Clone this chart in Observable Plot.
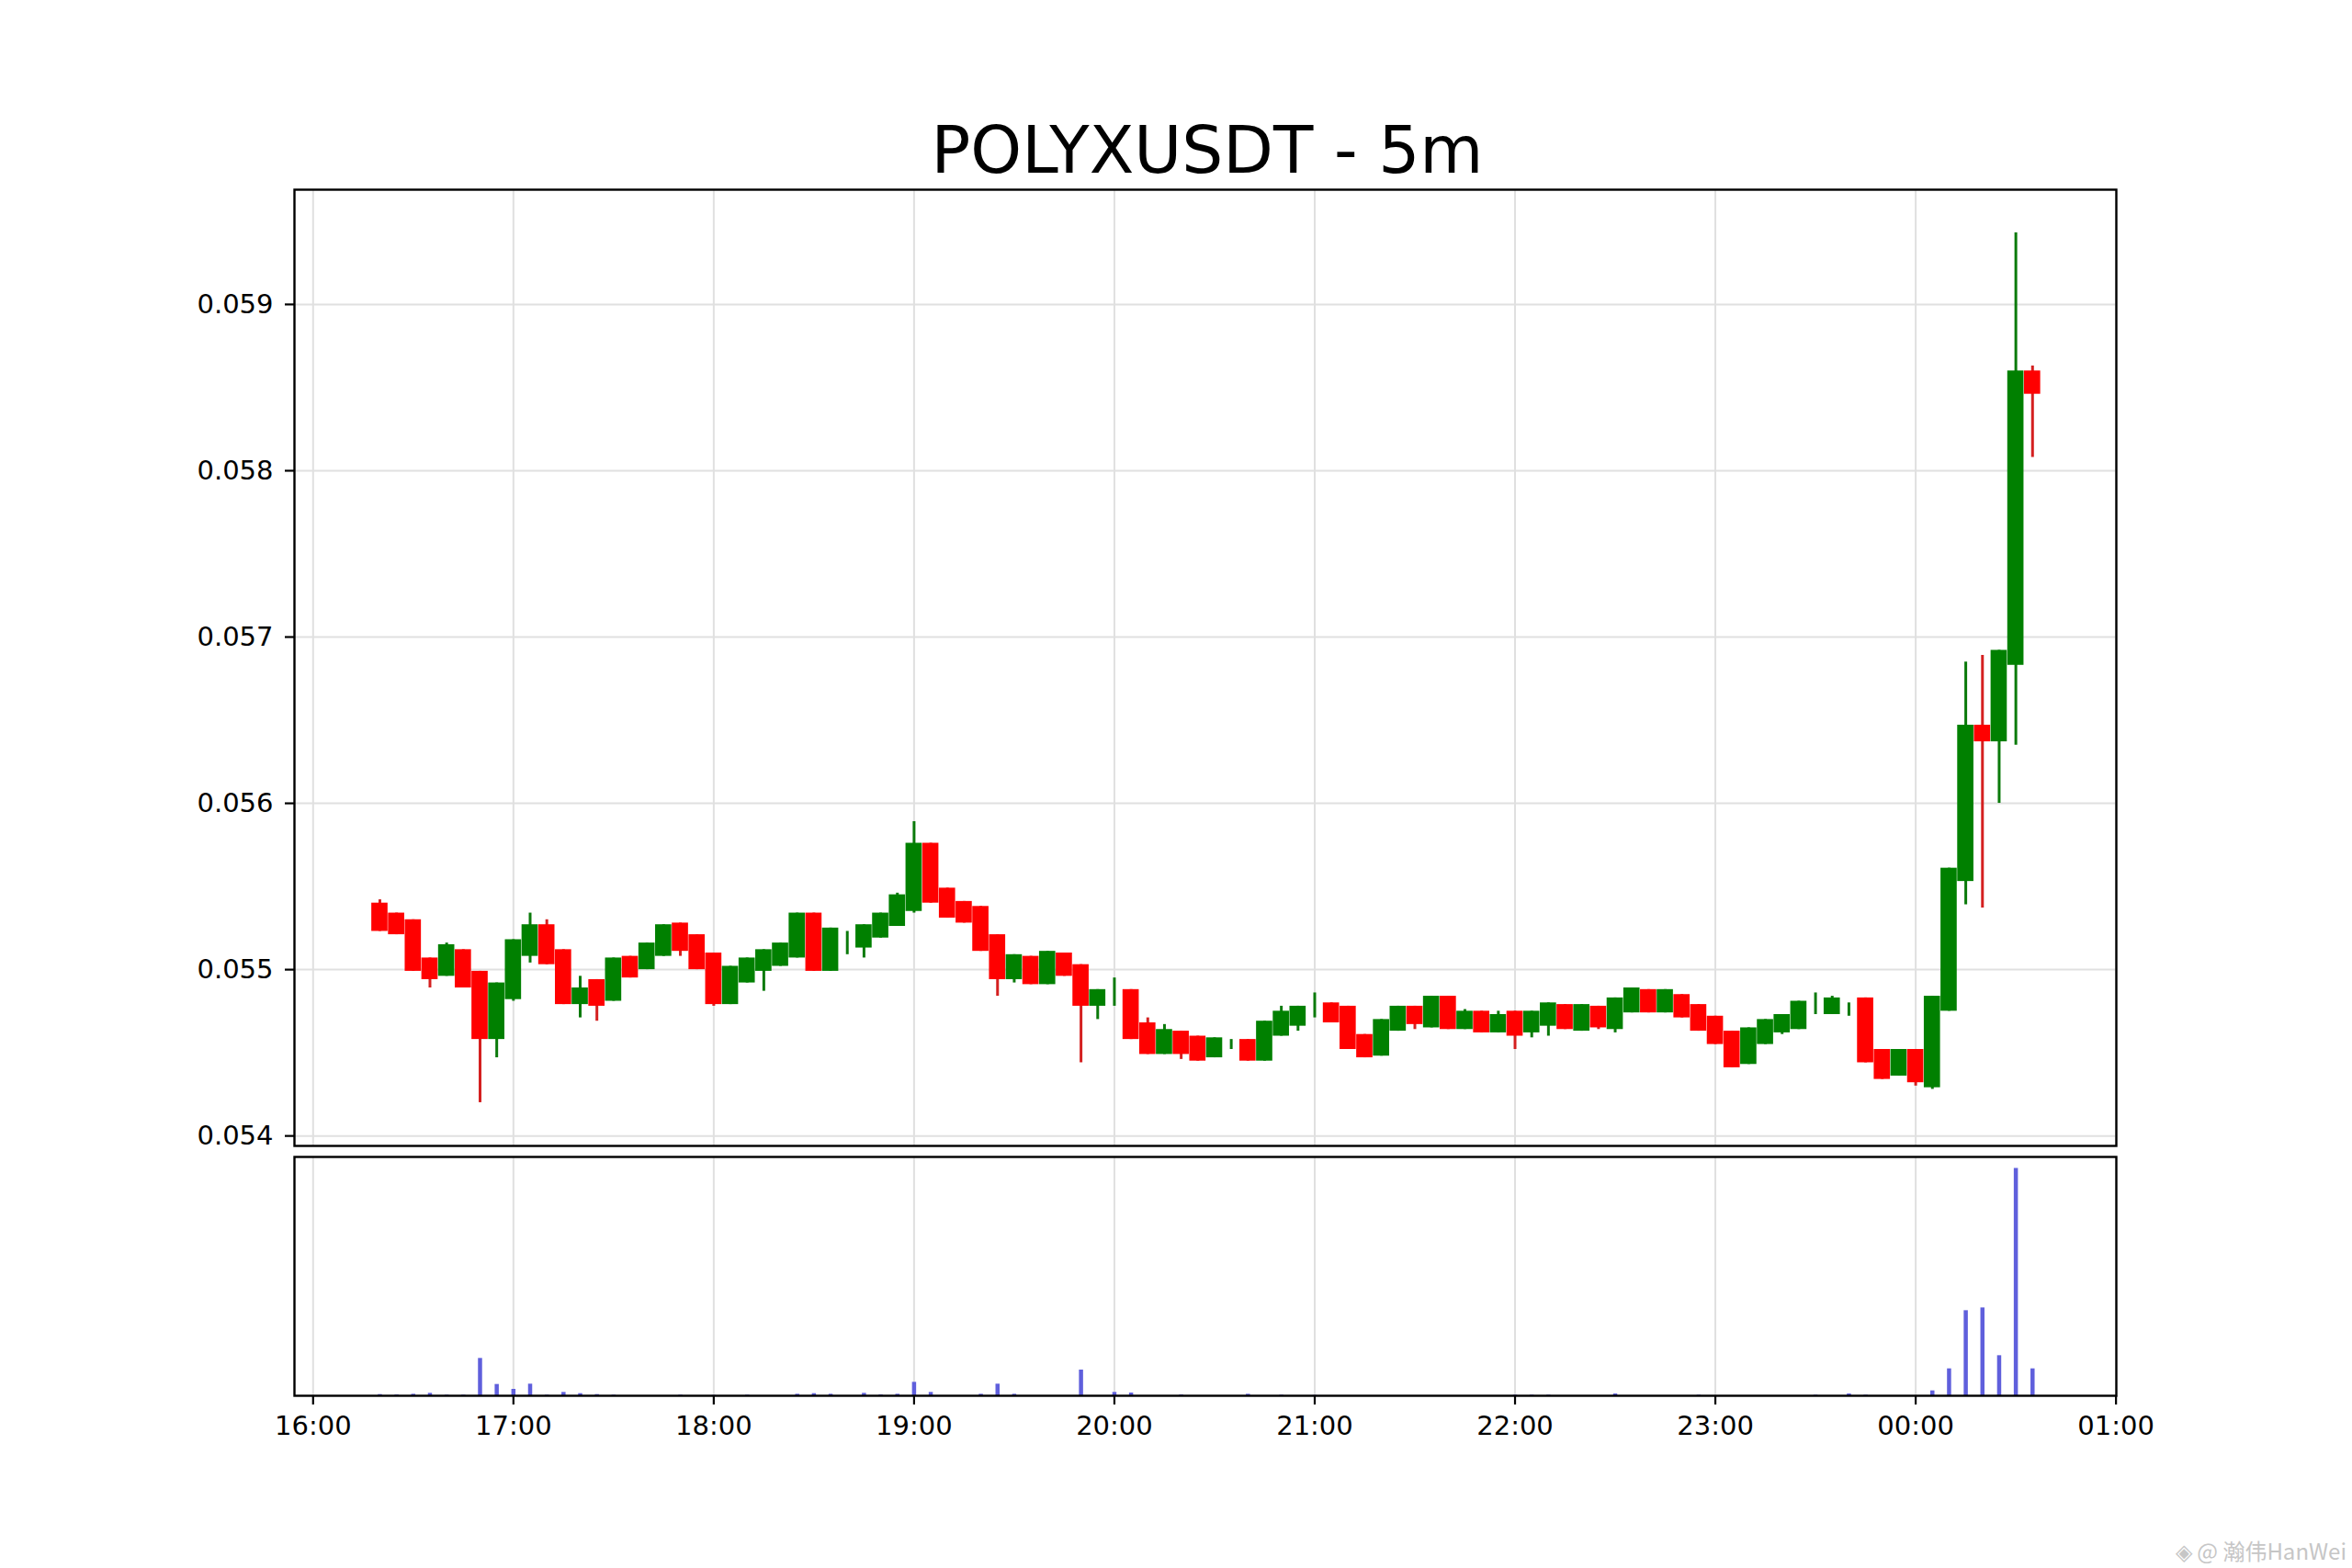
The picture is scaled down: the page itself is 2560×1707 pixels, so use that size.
<!DOCTYPE html>
<html>
<head>
<meta charset="utf-8">
<script src="https://cdn.jsdelivr.net/npm/d3@7"></script>
<script src="https://cdn.jsdelivr.net/npm/@observablehq/plot@0.6"></script>
<style>
  html, body { margin: 0; padding: 0; background: #ffffff; }
  #page { position: relative; width: 2560px; height: 1707px; overflow: hidden; background: #ffffff; font-family: "DejaVu Sans", sans-serif; }
  #title { position: absolute; left: 0; width: 2628px; top: 128px; text-align: center; font-size: 71px; line-height: 71px; color: #000; }
  #price { position: absolute; left: 0; top: 0; }
  #volume { position: absolute; left: 0; top: 1250px; }
  #mark { position: absolute; right: 6px; top: 1670px; font-size: 24px; color: #c6c6c6; font-family: "Noto Sans CJK SC", "Noto Sans", sans-serif; }
</style>
</head>
<body>
<div id="page">
  <div id="title">POLYXUSDT - 5m</div>
  <div id="price"></div>
  <div id="volume"></div>
  <div id="mark">◈ @ 瀚伟HanWei</div>
</div>
<script>
// ---- data ----
const times = ["16:20","16:25","16:30","16:35","16:40","16:45","16:50","16:55","17:00","17:05",
  "17:10","17:15","17:20","17:25","17:30","17:35","17:40","17:45","17:50","17:55",
  "18:00","18:05","18:10","18:15","18:20","18:25","18:30","18:35","18:40","18:45",
  "18:50","18:55","19:00","19:05","19:10","19:15","19:20","19:25","19:30","19:35",
  "19:40","19:45","19:50","19:55","20:00","20:05","20:10","20:15","20:20","20:25",
  "20:30","20:35","20:40","20:45","20:50","20:55","21:00","21:05","21:10","21:15",
  "21:20","21:25","21:30","21:35","21:40","21:45","21:50","21:55","22:00","22:05",
  "22:10","22:15","22:20","22:25","22:30","22:35","22:40","22:45","22:50","22:55",
  "23:00","23:05","23:10","23:15","23:20","23:25","23:30","23:35","23:40","23:45",
  "23:50","23:55","00:00","00:05","00:10","00:15","00:20","00:25","00:30","00:35"];

const open = [0.05540,0.05534,0.05530,0.05507,0.05496,0.05512,0.05499,0.05458,0.05482,0.05508,
  0.05527,0.05512,0.05479,0.05494,0.05481,0.05508,0.05500,0.05508,0.05528,0.05521,
  0.05510,0.05479,0.05492,0.05499,0.05502,0.05507,0.05534,0.05499,0.05517,0.05513,
  0.05519,0.05526,0.05535,0.05576,0.05549,0.05541,0.05538,0.05521,0.05494,0.05508,
  0.05491,0.05510,0.05503,0.05478,0.05484,0.05488,0.05468,0.05449,0.05463,0.05460,
  0.05447,0.05455,0.05458,0.05445,0.05460,0.05466,0.05473,0.05480,0.05478,0.05461,
  0.05448,0.05463,0.05478,0.05465,0.05484,0.05464,0.05475,0.05462,0.05475,0.05462,
  0.05466,0.05479,0.05463,0.05478,0.05464,0.05474,0.05488,0.05474,0.05485,0.05479,
  0.05472,0.05463,0.05443,0.05455,0.05462,0.05464,0.05476,0.05473,0.05475,0.05483,
  0.05452,0.05436,0.05452,0.05429,0.05475,0.05553,0.05647,0.05637,0.05683,0.05860];

const high = [0.05542,0.05534,0.05530,0.05507,0.05516,0.05512,0.05499,0.05492,0.05518,0.05534,
  0.05530,0.05512,0.05496,0.05494,0.05507,0.05508,0.05516,0.05527,0.05528,0.05521,
  0.05510,0.05502,0.05507,0.05512,0.05516,0.05534,0.05534,0.05525,0.05523,0.05527,
  0.05534,0.05546,0.05589,0.05576,0.05549,0.05541,0.05538,0.05521,0.05509,0.05508,
  0.05511,0.05510,0.05503,0.05488,0.05495,0.05488,0.05471,0.05467,0.05463,0.05460,
  0.05459,0.05458,0.05458,0.05469,0.05478,0.05478,0.05486,0.05480,0.05478,0.05461,
  0.05470,0.05478,0.05478,0.05484,0.05484,0.05476,0.05475,0.05475,0.05475,0.05475,
  0.05480,0.05479,0.05479,0.05478,0.05483,0.05489,0.05488,0.05488,0.05485,0.05479,
  0.05472,0.05463,0.05465,0.05470,0.05473,0.05481,0.05486,0.05484,0.05480,0.05483,
  0.05452,0.05452,0.05452,0.05484,0.05561,0.05685,0.05689,0.05692,0.05943,0.05863];

const low = [0.05523,0.05521,0.05499,0.05489,0.05496,0.05489,0.05420,0.05447,0.05481,0.05504,
  0.05503,0.05479,0.05471,0.05469,0.05481,0.05495,0.05500,0.05508,0.05508,0.05500,
  0.05478,0.05479,0.05492,0.05487,0.05502,0.05507,0.05499,0.05499,0.05509,0.05507,
  0.05519,0.05526,0.05534,0.05540,0.05531,0.05528,0.05511,0.05484,0.05492,0.05491,
  0.05491,0.05496,0.05444,0.05470,0.05478,0.05458,0.05449,0.05449,0.05446,0.05445,
  0.05447,0.05452,0.05445,0.05445,0.05460,0.05463,0.05471,0.05468,0.05452,0.05447,
  0.05448,0.05463,0.05464,0.05465,0.05464,0.05464,0.05462,0.05462,0.05452,0.05459,
  0.05460,0.05464,0.05463,0.05464,0.05462,0.05474,0.05474,0.05474,0.05471,0.05463,
  0.05455,0.05441,0.05443,0.05455,0.05461,0.05464,0.05473,0.05473,0.05472,0.05444,
  0.05434,0.05436,0.05430,0.05428,0.05475,0.05539,0.05537,0.05600,0.05635,0.05808];

const close = [0.05523,0.05521,0.05499,0.05494,0.05515,0.05489,0.05458,0.05492,0.05518,0.05527,
  0.05503,0.05479,0.05489,0.05478,0.05507,0.05495,0.05516,0.05527,0.05511,0.05500,
  0.05479,0.05502,0.05507,0.05512,0.05516,0.05534,0.05499,0.05525,0.05517,0.05527,
  0.05534,0.05545,0.05576,0.05540,0.05531,0.05528,0.05511,0.05494,0.05509,0.05491,
  0.05511,0.05496,0.05478,0.05488,0.05484,0.05458,0.05449,0.05464,0.05449,0.05445,
  0.05459,0.05455,0.05445,0.05469,0.05475,0.05478,0.05473,0.05468,0.05452,0.05447,
  0.05470,0.05478,0.05467,0.05484,0.05464,0.05475,0.05462,0.05473,0.05460,0.05475,
  0.05480,0.05464,0.05479,0.05465,0.05483,0.05489,0.05474,0.05488,0.05471,0.05463,
  0.05455,0.05441,0.05465,0.05470,0.05473,0.05481,0.05476,0.05483,0.05475,0.05444,
  0.05434,0.05452,0.05432,0.05484,0.05561,0.05647,0.05637,0.05692,0.05860,0.05846];

// relative volume (no scale shown on the reference)
const volume = [4,3,5,8,2,2,122,37,21,38,
  2,11,7,4,2,0,0,0,2,0,
  1,0,2,0,0,5,7,5,0,8,
  3,5,44,11,0,0,5,38,5,0,
  0,0,84,0,11,9,0,0,3,0,
  0,0,5,0,2,0,1,0,0,0,
  0,0,0,0,0,0,0,0,2,2,
  2,0,0,0,6,0,0,0,0,2,
  0,0,0,0,0,0,2,0,6,2,
  0,0,0,16,88,278,287,131,743,88];

const priceTicks = [0.054, 0.055, 0.056, 0.057, 0.058, 0.059];
const hourLabels = ["16:00","17:00","18:00","19:00","20:00","21:00","22:00","23:00","00:00","01:00"];

// ---- build ----
function toDate(s) {
  const [h, m, sec] = s.split(":").map(Number);
  return new Date(Date.UTC(2024, 0, h < 12 ? 2 : 1, h, m, sec || 0));
}
const data = times.map((t, i) => ({
  t: toDate(t), o: open[i], h: high[i], l: low[i], c: close[i], v: volume[i]
}));
const hourTicks = hourLabels.map(toDate);
const xDomain = [toDate("15:54:25"), toDate("01:00:06")];
const half = 2.43 * 60 * 1000;
const up = d => d.c >= d.o;
const fmtTime = d3.utcFormat("%H:%M");
const gridColor = "#e0e0e0";

const common = {
  width: 2560,
  marginLeft: 320,
  marginRight: 257,
  style: { fontFamily: "DejaVu Sans, sans-serif", fontSize: "29px", background: "transparent", color: "#000", overflow: "visible" }
};

const price = Plot.plot({
  ...common,
  height: 1250,
  marginTop: 206,
  marginBottom: 3,
  x: { type: "utc", domain: xDomain, axis: null },
  y: { domain: [0.05394, 0.05969], axis: null },
  color: { type: "identity" },
  marks: [
    Plot.gridX(hourTicks, { stroke: gridColor, strokeOpacity: 1, strokeWidth: 2 }),
    Plot.gridY(priceTicks, { stroke: gridColor, strokeOpacity: 1, strokeWidth: 2 }),
    Plot.ruleX(data, { x: "t", y1: "l", y2: "h", stroke: d => up(d) ? "#0b7a0b" : "#d42020", strokeWidth: 3 }),
    Plot.rect(data.filter(d => d.c !== d.o), {
      x1: d => new Date(+d.t - half), x2: d => new Date(+d.t + half),
      y1: "o", y2: "c", fill: d => up(d) ? "#008000" : "#ff0000"
    }),
    Plot.axisY(priceTicks, { tickSize: 10, tickPadding: 13, tickFormat: d3.format(".3f"), label: null, strokeWidth: 2.2, fontSize: 29 }),
    Plot.frame({ stroke: "#000", strokeWidth: 2.4 })
  ]
});
document.getElementById("price").appendChild(price);

const vol = Plot.plot({
  ...common,
  height: 360,
  marginTop: 9,
  marginBottom: 91,
  x: { type: "utc", domain: xDomain, axis: null },
  y: { domain: [0, d3.max(volume) * 1.05], axis: null },
  marks: [
    Plot.gridX(hourTicks, { stroke: gridColor, strokeOpacity: 1, strokeWidth: 2 }),
    Plot.ruleX(data.filter(d => d.v > 0), { x: "t", y1: 0, y2: "v", stroke: "#5f5fdc", strokeWidth: 4.5 }),
    Plot.axisX(hourTicks, { tickSize: 10, tickPadding: 12, tickFormat: fmtTime, label: null, strokeWidth: 2.2, fontSize: 29 }),
    Plot.frame({ stroke: "#000", strokeWidth: 2.4 })
  ]
});
document.getElementById("volume").appendChild(vol);
</script>
</body>
</html>
